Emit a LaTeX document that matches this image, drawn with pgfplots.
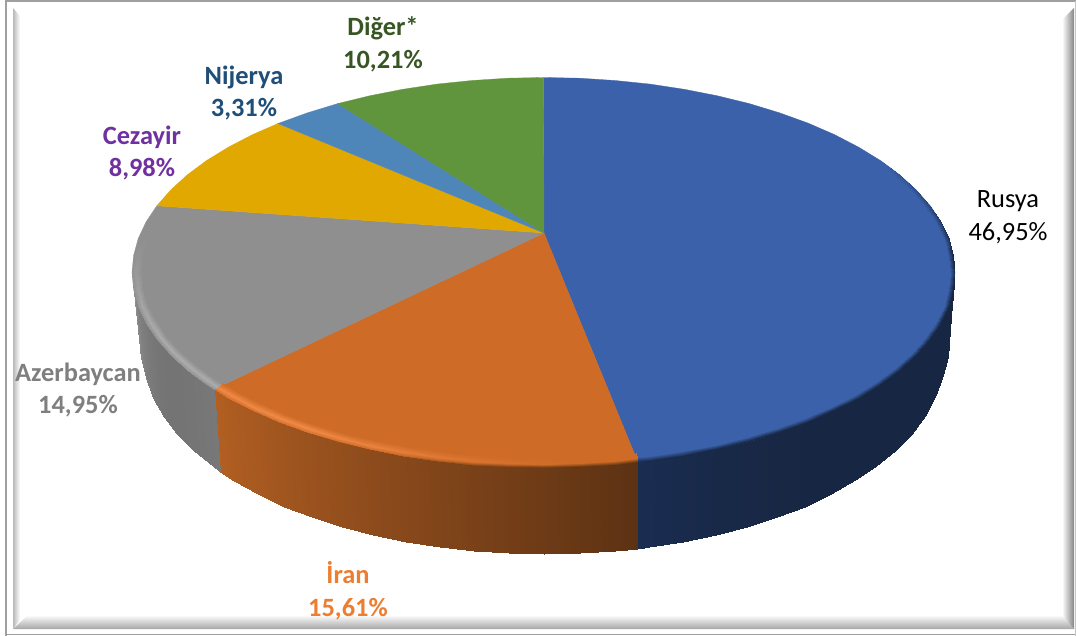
\documentclass[border=0pt]{standalone}
\usepackage{fontspec}
\setmainfont{Carlito}
\usepackage{pgfplots}
\pgfplotsset{compat=1.18}

\definecolor{cblue}{RGB}{58,97,169}
\definecolor{corange}{RGB}{206,107,39}
\definecolor{cgray}{RGB}{143,143,143}
\definecolor{cyellow}{RGB}{224,168,0}
\definecolor{clblue}{RGB}{79,134,186}
\definecolor{cgreen}{RGB}{96,149,61}

% three stops, for meta -1, 0 and 1
\pgfplotsset{
  colormap={wallblue}{rgb255=(23,38,66) rgb255=(24,41,72) rgb255=(26,45,82)},
  colormap={wallorange}{rgb255=(92,50,19) rgb255=(135,72,27) rgb255=(178,95,34)},
  colormap={wallgray}{rgb255=(112,112,112) rgb255=(128,128,128) rgb255=(145,145,145)},
  colormap={rimblue}{rgb255=(23,38,66) rgb255=(58,97,169) rgb255=(70,110,180)},
  colormap={rimorange}{rgb255=(92,50,19) rgb255=(206,107,39) rgb255=(240,138,70)},
  colormap={rimgray}{rgb255=(112,112,112) rgb255=(143,143,143) rgb255=(172,172,172)},
}

\begin{document}
\begin{tikzpicture}
\path[use as bounding box] (0,0) rectangle (1076bp,636bp);
\begin{axis}[
  at={(0,0)}, anchor=south west,
  scale only axis,
  width=1076bp, height=636bp,
  xmin=0, xmax=1076, ymin=0, ymax=636,
  y dir=reverse,
  hide axis,
  clip=false,
  point meta min=-1, point meta max=1,
]
% picture frame
\draw[color=gray!75, line width=1.8bp] (axis cs:6,636) -- (axis cs:6,1) -- (axis cs:1076,1);
\draw[color=gray!75, line width=1.5bp] (axis cs:6,634.5) -- (axis cs:1076,634.5);
\draw[color=gray!45, line width=1bp] (axis cs:1075.5,1) -- (axis cs:1075.5,636);
\shade[left color=gray!55, right color=white] (axis cs:13,8) -- (axis cs:13,629) -- (axis cs:20,620) -- (axis cs:20,16) -- cycle;
\shade[top color=white, bottom color=gray!70] (axis cs:13,629) -- (axis cs:1074,629) -- (axis cs:1062,615) -- (axis cs:28,615) -- cycle;
\shade[left color=white, right color=gray!95] (axis cs:1074,8) -- (axis cs:1074,629) -- (axis cs:1062,615) -- (axis cs:1062,20) -- cycle;

% side walls
\addplot[surf, shader=interp, colormap name=wallblue, mesh/cols=2, point meta=explicit] table[meta=m] {
x y m
955.0 272.5 -1
949.5 338.0 -1
953.4 289.5 -1
948.0 356.8 -1
948.8 306.4 -1
943.3 374.5 -1
941.0 323.0 -1
935.7 394.9 -1
930.2 339.2 -1
925.1 415.9 -1
916.4 354.9 -1
911.6 434.3 -1
899.9 370.0 -1
895.2 451.0 -1
880.6 384.4 -1
876.3 465.9 -1
858.7 397.8 -1
854.7 480.3 -1
834.5 410.4 -1
830.9 493.7 -1
808.0 421.9 -0.8
804.8 506.5 -0.8
779.5 432.2 -0.6
776.8 516.9 -0.6
749.3 441.4 -0.3
747.0 527.1 -0.3
717.4 449.2 0
715.7 534.8 0
684.2 455.7 0.4
683.0 542.0 0.4
650.0 460.9 0.8
649.3 547.1 0.8
637.9 462.2 1
637.7 548.6 1
};
\addplot[surf, shader=interp, colormap name=wallorange, mesh/cols=2, point meta=explicit] table[meta=m] {
x y m
637.9 462.2 -1
637.7 548.6 -1
614.9 464.5 -0.9
614.8 550.7 -0.9
579.4 466.8 -0.75
579.8 553.2 -0.75
543.5 467.5 -0.6
544.5 554.0 -0.6
507.6 466.8 -0.45
509.2 553.2 -0.45
472.1 464.5 -0.3
474.2 550.7 -0.3
437.0 460.9 -0.15
439.7 546.6 -0.15
402.8 455.7 0
406.0 542.0 0
369.6 449.2 0.15
373.3 534.8 0.15
337.7 441.4 0.3
342.0 527.1 0.3
307.5 432.2 0.45
312.2 516.9 0.45
279.0 421.9 0.6
284.2 506.5 0.6
252.5 410.4 0.75
258.1 493.7 0.75
228.3 397.8 0.9
234.3 480.8 0.9
214.0 389.3 1
220.2 471.9 1
};
\addplot[surf, shader=interp, colormap name=wallgray, mesh/cols=2, point meta=explicit] table[meta=m] {
x y m
214.0 389.3 -0.5
220.2 471.9 -0.5
206.4 384.4 -0.55
212.7 466.4 -0.55
187.1 370.0 -0.7
193.8 451.0 -0.7
170.6 354.9 -0.75
177.4 434.3 -0.75
156.8 339.2 -0.7
163.9 416.9 -0.7
146.0 323.0 -0.4
153.3 397.9 -0.4
138.2 306.4 0
145.7 377.5 0
133.6 289.5 0.4
141.0 357.8 0.4
132.0 272.5 1
139.5 338.0 1
};

% top faces
\addplot[fill=cblue, draw=cblue, line width=0.3bp] coordinates {
(544,233) (543.5,77.5) (579.4,78.2) (614.9,80.5) (650.0,84.1) (684.2,89.3) (717.4,95.8)
(749.3,103.6) (779.5,112.8) (808.0,123.1) (834.5,134.6) (858.7,147.2) (880.6,160.6)
(899.9,175.0) (916.4,190.1) (930.2,205.8) (941.0,222.0) (948.8,238.6) (953.4,255.5)
(955.0,272.5) (953.4,289.5) (948.8,306.4) (941.0,323.0) (930.2,339.2) (916.4,354.9)
(899.9,370.0) (880.6,384.4) (858.7,397.8) (834.5,410.4) (808.0,421.9) (779.5,432.2)
(749.3,441.4) (717.4,449.2) (684.2,455.7) (650.0,460.9) (637.9,462.2)
} --cycle;
\addplot[fill=corange, draw=corange, line width=0.3bp] coordinates {
(544,233) (637.9,462.2) (614.9,464.5) (579.4,466.8) (543.5,467.5) (507.6,466.8) (472.1,464.5)
(437.0,460.9) (402.8,455.7) (369.6,449.2) (337.7,441.4) (307.5,432.2) (279.0,421.9)
(252.5,410.4) (228.3,397.8) (214.0,389.3)
} --cycle;
\addplot[fill=cgray, draw=cgray, line width=0.3bp] coordinates {
(544,233) (214.0,389.3) (206.4,384.4) (187.1,370.0) (170.6,354.9) (156.8,339.2) (146.0,323.0)
(138.2,306.4) (133.6,289.5) (132.0,272.5) (133.6,255.5) (138.2,238.6) (146.0,222.0) (156.8,205.8)
} --cycle;
\addplot[fill=cyellow, draw=cyellow, line width=0.3bp] coordinates {
(544,233) (156.8,205.8) (170.6,190.1) (187.1,175.0) (206.4,160.6) (228.3,147.2) (252.5,134.6) (278.0,123.5)
} --cycle;
\addplot[fill=clblue, draw=clblue, line width=0.3bp] coordinates {
(544,233) (278.0,123.5) (307.5,112.8) (337.7,103.6)
} --cycle;
\addplot[fill=cgreen, draw=cgreen, line width=0.3bp] coordinates {
(544,233) (337.7,103.6) (369.6,95.8) (402.8,89.3) (437.0,84.1) (472.1,80.5) (507.6,78.2) (543.5,77.5)
} --cycle;

% soft rim of the top face
\addplot[surf, shader=interp, colormap name=rimblue, mesh/cols=2, point meta=explicit] table[meta=m] {
x y m
876.5 163.5 0
880.6 160.6 0
895.5 177.5 0
899.9 175.0 -0.2
911.9 192.2 0
916.4 190.1 -0.35
925.5 207.5 0
930.2 205.8 -0.5
936.1 223.3 0
941.0 222.0 -0.7
943.8 239.5 0
948.8 238.6 -0.85
948.5 255.9 0
953.4 255.5 -1
950.0 272.5 0
955.0 272.5 -1
948.5 289.1 0
953.4 289.5 -1
943.8 305.5 0
948.8 306.4 -1
936.1 321.7 0
941.0 323.0 -1
925.5 337.5 0
930.2 339.2 -1
911.9 352.8 0
916.4 354.9 -1
895.5 367.5 0
899.9 370.0 -1
876.5 381.5 0
880.6 384.4 -1
854.9 394.6 0
858.7 397.8 -1
830.9 406.9 0
834.5 410.4 -1
804.8 418.0 0
808.0 421.9 -1
776.7 428.1 0
779.5 432.2 -1
746.8 437.0 0
749.3 441.4 -1
715.3 444.7 0
717.4 449.2 -1
682.5 451.0 0
684.2 455.7 -1
648.7 456.0 0
650.0 460.9 -1
637.0 457.4 0
637.9 462.2 -1
};
\addplot[surf, shader=interp, colormap name=rimorange, mesh/cols=3, point meta=explicit] table[meta=m] {
x y m
635.8 452.5 0
637.2 458.4 0
637.9 462.2 -1
613.2 454.7 0
614.3 460.6 0
614.9 464.5 -1
578.5 456.8 0
579.0 462.8 0
579.4 466.8 -1
543.5 457.5 0
543.5 463.5 0.1
543.5 467.5 -1
508.5 456.8 0
508.0 462.8 0.2
507.6 466.8 -0.8
473.8 454.7 0
472.7 460.6 0.35
472.1 464.5 -0.6
439.6 451.2 0
438.0 457.0 0.5
437.0 460.9 -0.4
406.2 446.3 0
404.1 452.0 0.65
402.8 455.7 -0.2
373.8 440.2 0
371.3 445.6 0.8
369.6 449.2 0
342.7 432.7 0
339.7 437.9 0.9
337.7 441.4 0.2
313.2 424.1 0
309.8 429.0 1
307.5 432.2 0.2
285.4 414.2 0
281.6 418.8 1
279.0 421.9 0.2
259.6 403.3 0
255.4 407.6 1
252.5 410.4 0.2
235.9 391.4 0
231.3 395.3 1
228.3 397.8 0.2
222.0 383.3 0
217.2 386.9 1
214.0 389.3 0.2
};
\addplot[surf, shader=interp, colormap name=rimgray, mesh/cols=3, point meta=explicit] table[meta=m] {
x y m
222.0 383.3 0
217.2 386.9 1
214.0 389.3 0.2
214.6 378.6 0
209.7 382.1 1
206.4 384.4 0.2
195.8 365.0 0
190.6 368.0 1
187.1 370.0 0.2
179.6 350.7 0
174.2 353.2 1
170.6 354.9 0.2
166.2 335.8 0
160.6 337.8 1
156.8 339.2 0.2
155.7 320.4 0
149.9 321.9 0.9
146.0 323.0 0.2
148.1 304.6 0
142.2 305.7 0.8
138.2 306.4 0.2
143.5 288.6 0
137.6 289.1 0.6
133.6 289.5 0.2
142.0 272.5 0
136.0 272.5 0.4
132.0 272.5 0.2
143.5 256.4 0
137.6 255.9 0.2
133.6 255.5 0.1
148.1 240.4 0
142.2 239.3 0
138.2 238.6 0
};

% labels
\tikzset{lab/.style={align=center, inner sep=0pt, font=\fontsize{26.5}{33}\selectfont},
  labb/.style={lab, font=\fontsize{26.5}{33}\selectfont\bfseries}}
\node[lab, text=black] at (axis cs:1008,217) {Rusya\\46,95\%};
\node[labb, text={rgb,255:red,237;green,125;blue,49}] at (axis cs:348,591) {İran\\15,61\%};
\node[labb, text={rgb,255:red,127;green,127;blue,127}] at (axis cs:78,390) {Azerbaycan\\14,95\%};
\node[labb, text={rgb,255:red,112;green,48;blue,160}] at (axis cs:142,153) {Cezayir\\8,98\%};
\node[labb, text={rgb,255:red,31;green,78;blue,121}] at (axis cs:244,93) {Nijerya\\3,31\%};
\node[labb, text={rgb,255:red,55;green,86;blue,35}] at (axis cs:383,44) {Diğer*\\10,21\%};
\end{axis}
\end{tikzpicture}
\end{document}
